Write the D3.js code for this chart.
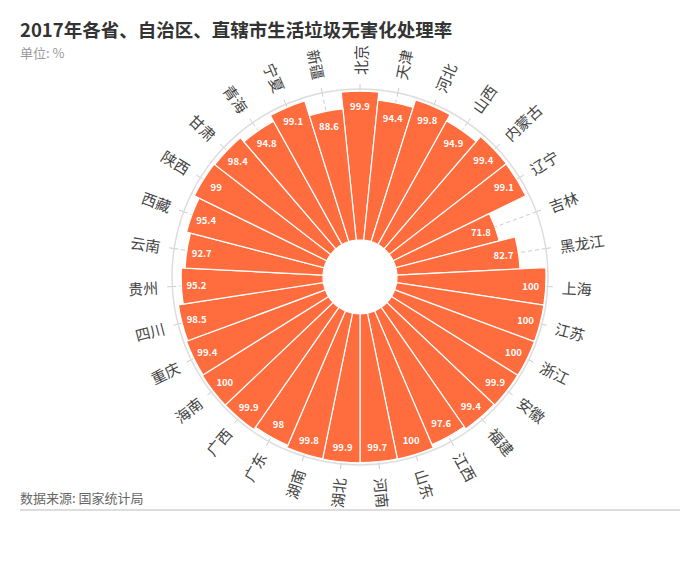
<!DOCTYPE html>
<html>
<head>
<meta charset="utf-8">
<script src="https://cdn.jsdelivr.net/npm/d3@7"></script>
<style>
  body { margin: 0; background: #fff; font-family: "Noto Sans CJK SC", "Noto Sans", sans-serif; }
</style>
</head>
<body>
<div id="main"></div>
<script>
var provinces = ['北京', '天津', '河北', '山西', '内蒙古', '辽宁', '吉林', '黑龙江', '上海', '江苏',
    '浙江', '安徽', '福建', '江西', '山东', '河南', '湖北', '湖南', '广东', '广西', '海南', '重庆',
    '四川', '贵州', '云南', '西藏', '陕西', '甘肃', '青海', '宁夏', '新疆'];
var rates = [99.9, 94.4, 99.8, 94.9, 99.4, 99.1, 71.8, 82.7, 100, 100,
    100, 99.9, 99.4, 97.6, 100, 99.7, 99.9, 99.8, 98, 99.9, 100, 99.4,
    98.5, 95.2, 92.7, 95.4, 99, 98.4, 94.8, 99.1, 88.6];
var rDomain = [0, 100];

var data = provinces.map(function(p, i) { return { name: p, value: rates[i] }; });

var width = 700, height = 574,
    cx = 360, cy = 277,
    inner = 37, outer = 186;

var svg = d3.select('#main').append('svg')
    .attr('width', width).attr('height', height);

svg.append('text')
    .attr('x', 20).attr('y', 37)
    .attr('font-size', 18.5).attr('font-weight', 600).attr('fill', '#333')
    .text('2017年各省、自治区、直辖市生活垃圾无害化处理率');
svg.append('text')
    .attr('x', 20).attr('y', 58)
    .attr('font-size', 13).attr('fill', '#999')
    .text('单位: %');

var step = 2 * Math.PI / provinces.length;
var x = d3.scaleBand()
    .domain(provinces)
    .range([-step / 2, 2 * Math.PI - step / 2]);
var y = d3.scaleLinear().domain(rDomain).range([inner, outer]);

var g = svg.append('g').attr('transform', 'translate(' + cx + ',' + cy + ')');

function mid(d) { return x(d) + x.bandwidth() / 2; }

// dashed radial guides and outer ticks
g.selectAll('.guide').data(provinces).enter().append('line')
    .attr('x1', function(d) { return inner * Math.sin(mid(d)); })
    .attr('y1', function(d) { return -inner * Math.cos(mid(d)); })
    .attr('x2', function(d) { return (outer + 2) * Math.sin(mid(d)); })
    .attr('y2', function(d) { return -(outer + 2) * Math.cos(mid(d)); })
    .attr('stroke', '#ccc').attr('stroke-dasharray', '4,3');

g.selectAll('.tick').data(provinces).enter().append('line')
    .attr('x1', function(d) { return (outer + 2) * Math.sin(mid(d)); })
    .attr('y1', function(d) { return -(outer + 2) * Math.cos(mid(d)); })
    .attr('x2', function(d) { return (outer + 7) * Math.sin(mid(d)); })
    .attr('y2', function(d) { return -(outer + 7) * Math.cos(mid(d)); })
    .attr('stroke', '#ccc');

g.append('circle').attr('r', outer + 2)
    .attr('fill', 'none').attr('stroke', '#ddd').attr('stroke-width', 1.5);

var arc = d3.arc()
    .innerRadius(inner)
    .outerRadius(function(d) { return y(d.value); })
    .startAngle(function(d) { return x(d.name); })
    .endAngle(function(d) { return x(d.name) + x.bandwidth(); });

g.selectAll('.bar').data(data).enter().append('path')
    .attr('d', arc)
    .attr('fill', '#ff6c3e')
    .attr('stroke', '#fff').attr('stroke-width', 1.2);

// values inside bars
g.selectAll('.val').data(data).enter().append('text')
    .attr('x', function(d) { return (y(d.value) - 15) * Math.sin(mid(d.name)); })
    .attr('y', function(d) { return -(y(d.value) - 15) * Math.cos(mid(d.name)); })
    .attr('text-anchor', 'middle').attr('dominant-baseline', 'central')
    .attr('font-size', 9.5).attr('font-weight', 700).attr('fill', '#fff')
    .text(function(d) { return d.value; });

// province labels
g.selectAll('.lab').data(provinces).enter().append('text')
    .attr('transform', function(d) {
        var a = mid(d) * 180 / Math.PI;
        var flip = a > 180;
        return 'rotate(' + (a - 90) + ')translate(' + (outer + 16) + ',0)' + (flip ? 'rotate(180)' : '');
    })
    .attr('text-anchor', function(d) { return mid(d) * 180 / Math.PI > 180 ? 'end' : 'start'; })
    .attr('dominant-baseline', 'central')
    .attr('font-size', 15).attr('fill', '#444')
    .text(function(d) { return d; });

svg.append('text')
    .attr('x', 20).attr('y', 503)
    .attr('font-size', 13).attr('fill', '#666')
    .text('数据来源: 国家统计局');
svg.append('line')
    .attr('x1', 20).attr('x2', 680).attr('y1', 510).attr('y2', 510)
    .attr('stroke', '#ddd').attr('stroke-width', 2);
</script>
</body>
</html>
